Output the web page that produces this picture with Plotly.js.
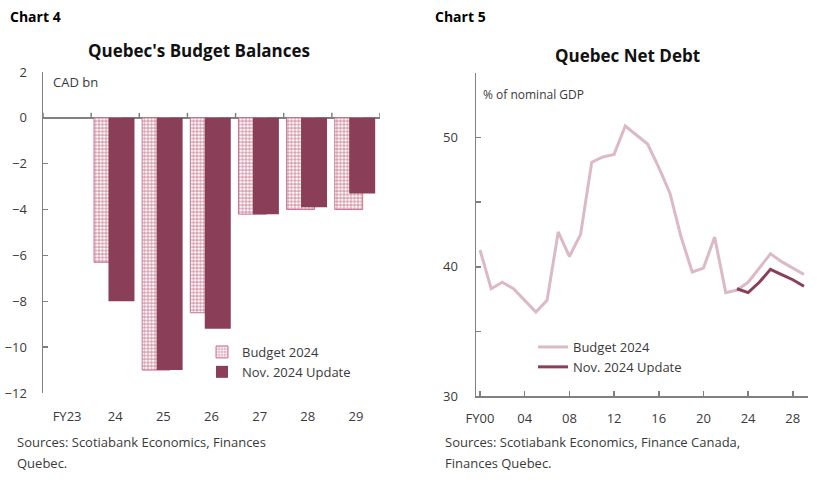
<!DOCTYPE html>
<html>
<head>
<meta charset="utf-8">
<script src="https://cdn.plot.ly/plotly-3.0.1.min.js"></script>
<style>
  html, body { margin: 0; padding: 0; background: #ffffff; }
  #chart { width: 828px; height: 482px; }
</style>
</head>
<body>
<div id="chart"></div>
<script>
// Chart 4: budget balances (CAD bn)
const balanceYears = ["FY23", "24", "25", "26", "27", "28", "29"];
const budget2024Balance = [null, -6.3, -11.0, -8.5, -4.2, -4.0, -4.0];
const novUpdateBalance = [null, -8.0, -11.0, -9.2, -4.2, -3.9, -3.3];

// Chart 5: net debt (% of nominal GDP)
const debtYears = [2000, 2001, 2002, 2003, 2004, 2005, 2006, 2007, 2008, 2009,
                   2010, 2011, 2012, 2013, 2014, 2015, 2016, 2017, 2018, 2019,
                   2020, 2021, 2022, 2023, 2024, 2025, 2026, 2027, 2028, 2029];
const budget2024Debt = [41.3, 38.3, 38.8, 38.3, 37.4, 36.5, 37.4, 42.7, 40.8, 42.5,
                        48.1, 48.5, 48.7, 50.9, 50.2, 49.5, 47.7, 45.7, 42.3, 39.6,
                        39.9, 42.3, 38.0, 38.2, 38.8, 39.9, 41.0, 40.4, 39.9, 39.4];
const novUpdateYears = [2023, 2024, 2025, 2026, 2027, 2028, 2029];
const novUpdateDebt = [38.3, 38.0, 38.8, 39.8, 39.4, 39.0, 38.5];
const debtTickVals = [2000, 2004, 2008, 2012, 2016, 2020, 2024, 2028];
const debtTickText = ["FY00", "04", "08", "12", "16", "20", "24", "28"];
const debtYTicks = [30, 35, 40, 45, 50, 55];
const debtYText = ["30", "", "40", "", "50", ""];

const W = 828, H = 482;
const px = v => v / W;
const py = v => 1 - v / H;

const FONT = "Open Sans, Noto Sans, sans-serif";
const TICK_COLOR = "#3a3a3a";
const AXIS_COLOR = "#808080";
const MAROON = "#8b3e57";
const PINK_LINE = "#dcbac5";

const traces = [
    {
        type: "bar",
        name: "Budget 2024",
        x: balanceYears,
        y: budget2024Balance,
        offset: -0.44,
        width: 0.58,
        marker: {
            color: "#ffffff",
            opacity: 1,
            line: { color: "#c6788f", width: 1 },
            pattern: { shape: ".", fgcolor: "#ffffff", bgcolor: "#d99fb1", size: 3.5, solidity: 0.5 }
        },
        legend: "legend",
        legendgroup: "b1",
        hoverinfo: "skip"
    },
    {
        type: "bar",
        name: "Nov. 2024 Update",
        x: balanceYears,
        y: novUpdateBalance,
        offset: -0.14,
        width: 0.54,
        marker: { color: MAROON, opacity: 1, line: { width: 0 } },
        legend: "legend",
        legendgroup: "b2",
        hoverinfo: "skip"
    },
    {
        type: "scatter",
        mode: "lines",
        name: "Budget 2024",
        x: debtYears,
        y: budget2024Debt,
        xaxis: "x2",
        yaxis: "y2",
        line: { color: PINK_LINE, width: 3 },
        legend: "legend2",
        legendgroup: "l1",
        hoverinfo: "skip"
    },
    {
        type: "scatter",
        mode: "lines",
        name: "Nov. 2024 Update",
        x: novUpdateYears,
        y: novUpdateDebt,
        xaxis: "x2",
        yaxis: "y2",
        line: { color: MAROON, width: 3 },
        legend: "legend2",
        legendgroup: "l2",
        hoverinfo: "skip"
    }
];

// small upward tick marks on the zero line, between categories
const zeroTicks = balanceYears.concat([null]).map((_, i) => ({
    type: "line",
    xref: "x", yref: "y",
    ysizemode: "pixel", yanchor: 0,
    x0: i - 0.5, x1: i - 0.5,
    y0: 0, y1: 5,
    line: { color: AXIS_COLOR, width: 1.5 },
    layer: "above"
}));

const layout = {
    width: W,
    height: H,
    margin: { t: 0, b: 0, l: 0, r: 0 },
    paper_bgcolor: "#ffffff",
    plot_bgcolor: "rgba(0,0,0,0)",
    font: { family: FONT, size: 13, color: TICK_COLOR },
    barmode: "overlay",
    showlegend: true,
    xaxis: {
        domain: [px(43), px(380)],
        anchor: "y",
        type: "category",
        categoryorder: "array",
        categoryarray: balanceYears,
        range: [-0.5, 6.5],
        showline: false,
        ticks: "",
        ticklabelstandoff: 14,
        tickfont: { size: 13, color: TICK_COLOR },
        showgrid: false,
        zeroline: false,
        fixedrange: true
    },
    yaxis: {
        domain: [py(393), py(72)],
        anchor: "x",
        range: [-12, 2],
        dtick: 2,
        showline: true,
        linecolor: AXIS_COLOR,
        linewidth: 1.5,
        ticks: "inside",
        ticklen: 5,
        tickcolor: AXIS_COLOR,
        tickwidth: 1.5,
        ticklabelstandoff: 12,
        showgrid: false,
        zeroline: true,
        zerolinecolor: AXIS_COLOR,
        zerolinewidth: 1.5,
        tickfont: { size: 13, color: TICK_COLOR },
        fixedrange: true
    },
    xaxis2: {
        domain: [px(476), px(808)],
        anchor: "y2",
        range: [1999.64, 2029.36],
        tickvals: debtTickVals,
        ticktext: debtTickText,
        showline: true,
        linecolor: AXIS_COLOR,
        linewidth: 1.5,
        ticks: "inside",
        ticklen: 5,
        tickcolor: AXIS_COLOR,
        tickwidth: 1.5,
        ticklabelstandoff: 10,
        showgrid: false,
        zeroline: false,
        tickfont: { size: 13, color: TICK_COLOR },
        fixedrange: true
    },
    yaxis2: {
        domain: [py(396), py(73)],
        anchor: "x2",
        range: [30, 55],
        tickvals: debtYTicks,
        ticktext: debtYText,
        showline: true,
        linecolor: AXIS_COLOR,
        linewidth: 1.5,
        ticks: "inside",
        ticklen: 5,
        tickcolor: AXIS_COLOR,
        tickwidth: 1.5,
        ticklabelstandoff: 14,
        showgrid: false,
        zeroline: false,
        tickfont: { size: 13, color: TICK_COLOR },
        fixedrange: true
    },
    legend: {
        x: px(202), y: py(337),
        xanchor: "left", yanchor: "top",
        bgcolor: "rgba(0,0,0,0)",
        font: { size: 13, color: TICK_COLOR },
        tracegroupgap: 18,
        traceorder: "normal"
    },
    legend2: {
        x: px(533), y: py(332),
        xanchor: "left", yanchor: "top",
        bgcolor: "rgba(0,0,0,0)",
        font: { size: 13, color: TICK_COLOR },
        tracegroupgap: 10,
        traceorder: "normal"
    },
    shapes: zeroTicks,
    annotations: [
        { text: "<b>Chart 4</b>", x: px(8), y: py(17), xanchor: "left", yanchor: "middle", font: { size: 14, color: "#000000" } },
        { text: "<b>Chart 5</b>", x: px(433), y: py(17), xanchor: "left", yanchor: "middle", font: { size: 14, color: "#000000" } },
        { text: "<b>Quebec's Budget Balances</b>", x: px(199), y: py(51), xanchor: "center", yanchor: "middle", font: { size: 17, color: "#111111" } },
        { text: "<b>Quebec Net Debt</b>", x: px(627), y: py(55), xanchor: "center", yanchor: "middle", font: { size: 17, color: "#111111" } },
        { text: "CAD bn", x: px(51), y: py(82), xanchor: "left", yanchor: "middle", font: { size: 13, color: TICK_COLOR } },
        { text: "% of nominal GDP", x: px(481), y: py(95), xanchor: "left", yanchor: "middle", font: { size: 12, color: TICK_COLOR } },
        { text: "Sources: Scotiabank Economics, Finances", x: px(15), y: py(442), xanchor: "left", yanchor: "middle", font: { size: 13, color: TICK_COLOR } },
        { text: "Quebec.", x: px(15), y: py(463), xanchor: "left", yanchor: "middle", font: { size: 13, color: TICK_COLOR } },
        { text: "Sources: Scotiabank Economics, Finance Canada,", x: px(443), y: py(442), xanchor: "left", yanchor: "middle", font: { size: 13, color: TICK_COLOR } },
        { text: "Finances Quebec.", x: px(443), y: py(463), xanchor: "left", yanchor: "middle", font: { size: 13, color: TICK_COLOR } }
    ].map(a => Object.assign({ xref: "paper", yref: "paper", showarrow: false }, a))
};

Plotly.newPlot("chart", traces, layout, { displayModeBar: false, staticPlot: true });
</script>
</body>
</html>
